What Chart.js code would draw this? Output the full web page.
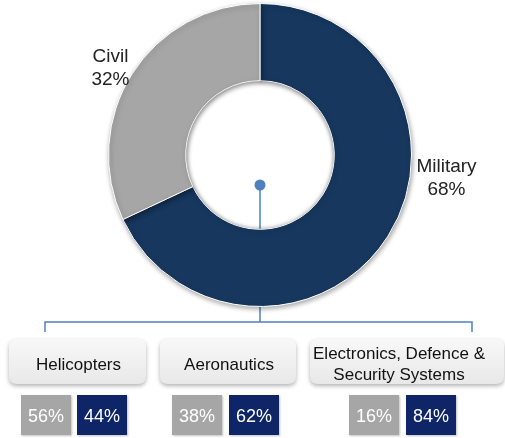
<!DOCTYPE html>
<html lang="en">
<head>
    <meta charset="UTF-8">
    <title>Civil / Military split</title>
    <script src="https://cdn.jsdelivr.net/npm/chart.js"></script>
    <style>
        html, body {
            margin: 0;
            padding: 0;
            background: #fff;
        }
        .wrap {
            width: 505px;
            height: 438px;
            position: relative;
        }
    </style>
</head>
<body>
    <div class="wrap">
        <canvas id="splitChart" width="505" height="438"></canvas>
    </div>

    <script>
        // overall split
        const segments = ['Military', 'Civil'];
        const shares = [68, 32];

        // per division split
        const divisions = ['Helicopters', 'Aeronautics', ['Electronics, Defence &', 'Security Systems']];
        const civilShares = [56, 38, 16];
        const militaryShares = [44, 62, 84];

        const NAVY = '#17375e';
        const GREY = '#a6a6a6';
        const BOX_NAVY = '#0e2667';
        const LINE = '#4f81bd';
        const FONT = '"Liberation Sans", Arial, sans-serif';

        function roundRect(ctx, x, y, w, h, r) {
            ctx.beginPath();
            ctx.moveTo(x + r, y);
            ctx.lineTo(x + w - r, y);
            ctx.quadraticCurveTo(x + w, y, x + w, y + r);
            ctx.lineTo(x + w, y + h - r);
            ctx.quadraticCurveTo(x + w, y + h, x + w - r, y + h);
            ctx.lineTo(x + r, y + h);
            ctx.quadraticCurveTo(x, y + h, x, y + h - r);
            ctx.lineTo(x, y + r);
            ctx.quadraticCurveTo(x, y, x + r, y);
            ctx.closePath();
        }

        // connector line sits behind the ring, shadow under the ring
        const ringShadow = {
            id: 'ringShadow',
            beforeDatasetsDraw(chart) {
                const ctx = chart.ctx;
                const arc = chart.getDatasetMeta(0).data[0];
                ctx.save();
                ctx.strokeStyle = LINE;
                ctx.lineWidth = 1.5;
                ctx.beginPath();
                ctx.moveTo(arc.x, arc.y + 30);
                ctx.lineTo(arc.x, 322);
                ctx.stroke();
                ctx.restore();
            },
            beforeDatasetDraw(chart) {
                const ctx = chart.ctx;
                ctx.save();
                ctx.shadowColor = 'rgba(0,0,0,0.35)';
                ctx.shadowBlur = 5;
                ctx.shadowOffsetX = 1;
                ctx.shadowOffsetY = 2;
            },
            afterDatasetDraw(chart) {
                chart.ctx.restore();
            },
            afterDatasetsDraw(chart) {
                // faint inner shading round the hole
                const ctx = chart.ctx;
                const arc = chart.getDatasetMeta(0).data[0];
                ctx.save();
                ctx.beginPath();
                ctx.arc(arc.x, arc.y, arc.innerRadius, 0, Math.PI * 2);
                ctx.clip();
                ctx.shadowColor = 'rgba(0,0,0,0.35)';
                ctx.shadowBlur = 5;
                ctx.strokeStyle = 'rgba(255,255,255,1)';
                ctx.lineWidth = 4;
                ctx.beginPath();
                ctx.arc(arc.x, arc.y, arc.innerRadius + 2, 0, Math.PI * 2);
                ctx.stroke();
                ctx.restore();
            }
        };

        // slice labels, center pin and the division boxes below
        const extras = {
            id: 'extras',
            afterDraw(chart) {
                const ctx = chart.ctx;
                const arc = chart.getDatasetMeta(0).data[0];
                const cx = arc.x, cy = arc.y, R = arc.outerRadius;

                ctx.save();
                ctx.fillStyle = '#222';
                ctx.font = '19px ' + FONT;
                ctx.textAlign = 'center';
                ctx.textBaseline = 'middle';
                // Military label
                ctx.fillText(segments[0], cx + R + 35, cy + 12);
                ctx.fillText(shares[0] + '%', cx + R + 35, cy + 35);
                // Civil label
                ctx.fillText(segments[1], cx - R + 2, cy - 98);
                ctx.fillText(shares[1] + '%', cx - R + 2, cy - 75);

                // pin + bracket
                ctx.strokeStyle = LINE;
                ctx.lineWidth = 1.5;
                ctx.beginPath();
                ctx.moveTo(45, 332);
                ctx.lineTo(45, 322);
                ctx.lineTo(472, 322);
                ctx.lineTo(472, 332);
                ctx.stroke();
                ctx.fillStyle = LINE;
                ctx.beginPath();
                ctx.arc(cx, cy + 30, 5.5, 0, Math.PI * 2);
                ctx.fill();

                // division boxes
                const boxes = [[9, 137], [160, 136], [310, 194]];
                const pairs = [[21, 77], [172, 229], [349, 406]];
                divisions.forEach((name, i) => {
                    const [bx, bw] = boxes[i];
                    ctx.save();
                    ctx.shadowColor = 'rgba(0,0,0,0.3)';
                    ctx.shadowBlur = 4;
                    ctx.shadowOffsetY = 2;
                    const g = ctx.createLinearGradient(0, 339, 0, 384);
                    g.addColorStop(0, '#f8f8f8');
                    g.addColorStop(1, '#e8e8e8');
                    ctx.fillStyle = g;
                    roundRect(ctx, bx, 339, bw, 45, 8);
                    ctx.fill();
                    ctx.restore();

                    ctx.fillStyle = '#111';
                    ctx.font = '17px ' + FONT;
                    ctx.textAlign = 'center';
                    ctx.textBaseline = 'middle';
                    const lines = Array.isArray(name) ? name : [name];
                    const tx = i === 2 ? 399 : bx + bw / 2 + 1;
                    lines.forEach((ln, k) => {
                        ctx.fillText(ln, tx, 365 + (k - (lines.length - 1) / 2) * 21 - (lines.length > 1 ? 0 : 0));
                    });

                    // civil / military share cells
                    const vals = [civilShares[i], militaryShares[i]];
                    const cols = [GREY, BOX_NAVY];
                    pairs[i].forEach((px, k) => {
                        ctx.save();
                        ctx.shadowColor = 'rgba(0,0,0,0.25)';
                        ctx.shadowBlur = 2;
                        ctx.shadowOffsetX = 1;
                        ctx.shadowOffsetY = 1;
                        ctx.fillStyle = cols[k];
                        ctx.fillRect(px, 395, 50, 40);
                        ctx.restore();
                        ctx.fillStyle = '#fff';
                        ctx.font = '18px ' + FONT;
                        ctx.fillText(vals[k] + '%', px + 25, 417);
                    });
                });
                ctx.restore();
            }
        };

        new Chart(document.getElementById('splitChart'), {
            type: 'doughnut',
            data: {
                labels: segments,
                datasets: [{
                    data: shares,
                    backgroundColor: [NAVY, GREY],
                    borderColor: '#ffffff',
                    borderWidth: 1
                }]
            },
            options: {
                responsive: false,
                animation: false,
                cutout: '49%',
                layout: {
                    padding: { top: 3, bottom: 131, left: 108, right: 93 }
                },
                plugins: {
                    legend: { display: false },
                    tooltip: { enabled: false }
                }
            },
            plugins: [ringShadow, extras]
        });
    </script>
</body>
</html>
